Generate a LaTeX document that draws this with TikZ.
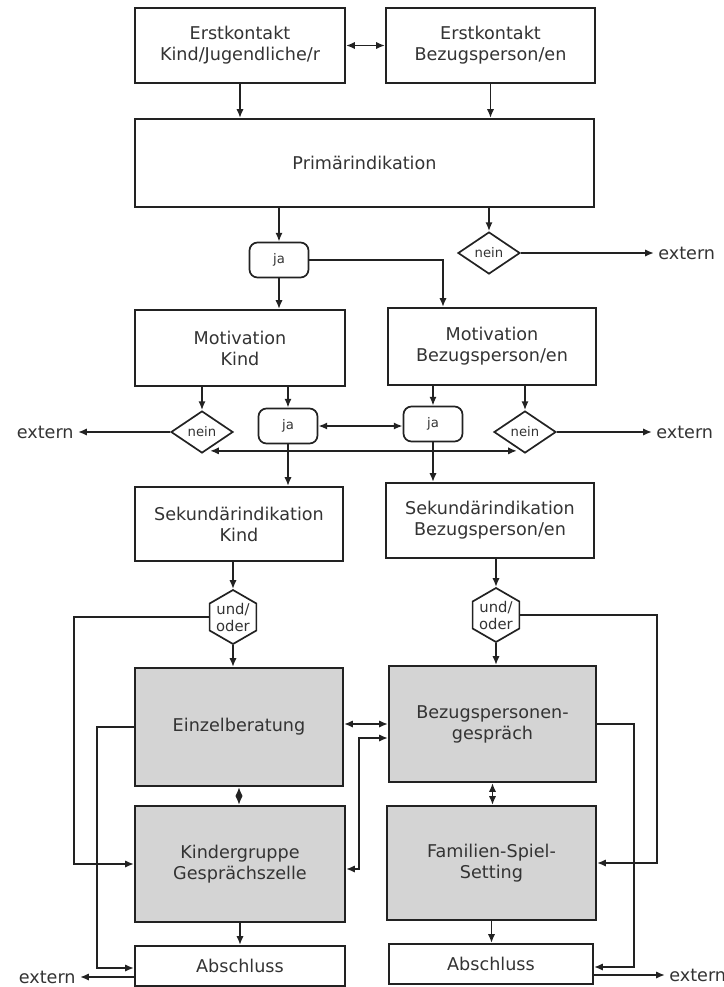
\documentclass[tikz,border=0pt]{standalone}
\usepackage{fontspec}
\setmainfont{DejaVu Sans}
\usetikzlibrary{shapes.geometric,arrows.meta,calc}
\definecolor{ln}{HTML}{222222}
\definecolor{tx}{HTML}{333333}
\definecolor{gf}{HTML}{D4D4D4}
\begin{document}
\begin{tikzpicture}[x=0.5pt,y=-0.5pt,
 every node/.style={text=tx, font=\fontsize{8.8}{10.5}\selectfont, align=center},
 box/.style={draw=ln, line width=1pt, rectangle, inner sep=0pt},
 gbox/.style={box, fill=gf},
 jabox/.style={draw=ln, line width=0.85pt, rounded corners=4pt, minimum width=29.5pt, minimum height=17.5pt, inner sep=0pt, font=\fontsize{6.6}{8}\selectfont},
 neind/.style={draw=ln, line width=0.85pt, diamond, minimum width=31pt, minimum height=21pt, inner sep=0pt, font=\fontsize{6.6}{8}\selectfont},
 hexa/.style={draw=ln, line width=0.85pt, regular polygon, regular polygon sides=6, shape border rotate=90, minimum size=27pt, inner sep=0pt},
 hext/.style={inner sep=0pt, font=\fontsize{7.4}{8.5}\selectfont},
 conn/.style={draw=ln, line width=0.9pt, -{Latex[length=4.4pt,width=3.6pt]}},
 dconn/.style={draw=ln, line width=0.9pt, {Latex[length=4.4pt,width=3.6pt]}-{Latex[length=4.4pt,width=3.6pt]}},
 ext/.style={inner sep=2pt}
]
\useasboundingbox (0,0) rectangle (724,987);

% nodes
\node[box, minimum width=105pt, minimum height=37.5pt] (ek1) at (240,45.5) {Erstkontakt\\Kind/Jugendliche/r};
\node[box, minimum width=104.5pt, minimum height=37.5pt] (ek2) at (490.5,45.5) {Erstkontakt\\Bezugsperson/en};
\node[box, minimum width=229.5pt, minimum height=44pt] (prim) at (364.5,163) {Primärindikation};
\node[jabox] (ja1) at (279,260) {ja};
\node[neind] (n1) at (489,253) {nein};
\node[ext, anchor=west] (x1) at (654,253) {extern};
\node[box, minimum width=105pt, minimum height=38pt] (mk) at (240,348) {Motivation\\Kind};
\node[box, minimum width=104pt, minimum height=38.5pt] (mb) at (492,346.5) {Motivation\\Bezugsperson/en};
\node[neind] (n2) at (202,432) {nein};
\node[jabox] (ja2) at (288,426) {ja};
\node[jabox] (ja3) at (433,424) {ja};
\node[neind] (n3) at (525,432) {nein};
\node[ext, anchor=east] (x2) at (78,432) {extern};
\node[ext, anchor=west] (x3) at (652,432) {extern};
\node[box, minimum width=104pt, minimum height=37pt] (sk) at (239,524) {Sekundärindikation\\Kind};
\node[box, minimum width=104pt, minimum height=37.5pt] (sb) at (490,520.5) {Sekundärindikation\\Bezugsperson/en};
\node[hexa] (h1) at (233,617) {};
\node[hexa] (h2) at (496,615) {};
\node[hext] (t1) at (h1) {und/\\oder};
\node[hext] (t2) at (h2) {und/\\oder};
\node[gbox, minimum width=104pt, minimum height=59pt] (ez) at (239,727) {Einzelberatung};
\node[gbox, minimum width=103.5pt, minimum height=58pt] (bz) at (492.5,724) {Bezugspersonen-\\gespräch};
\node[gbox, minimum width=105pt, minimum height=58pt] (kg) at (240,864) {Kindergruppe\\Gesprächszelle};
\node[gbox, minimum width=104.5pt, minimum height=57pt] (fs) at (491.5,863) {Familien-Spiel-\\Setting};
\node[box, minimum width=105pt, minimum height=20pt] (a1) at (240,966) {Abschluss};
\node[box, minimum width=102pt, minimum height=20pt] (a2) at (491,964) {Abschluss};
\node[ext, anchor=east] (x4) at (80,977) {extern};
\node[ext, anchor=west] (x5) at (665,975) {extern};

\coordinate (c1) at (74,617);
\coordinate (c2) at (657,615);
\coordinate (c3) at (97,727);
\coordinate (c4) at (634,724);
\coordinate (c5) at (359,869);

% connectors
\draw[dconn] (ek1) -- (ek2);
\draw[conn] (ek1.south) -- (ek1.south |- prim.north);
\draw[conn] (ek2.south) -- (ek2.south |- prim.north);
\draw[conn] (ja1 |- prim.south) -- (ja1.north);
\draw[conn] (n1 |- prim.south) -- (n1.north);
\draw[conn] (n1.east) -- (x1.west);
\draw[conn] (ja1.east) -| ([xshift=-24.5pt]mb.north);
\draw[conn] (ja1.south) -- (ja1 |- mk.north);
\draw[conn] (n2 |- mk.south) -- (n2.north);
\draw[conn] (ja2 |- mk.south) -- (ja2.north);
\draw[conn] (ja3 |- mb.south) -- (ja3.north);
\draw[conn] (n3 |- mb.south) -- (n3.north);
\draw[conn] (n2.west) -- (x2.east);
\draw[conn] (n3.east) -- (x3.west);
\draw[dconn] (ja2.east) -- (ja2.east -| ja3.west);
\draw[dconn] ($(n2.south)+(8,-3)$) -- ($(n3.south)+(-8,-3)$);
\draw[conn] (ja2.south) -- (ja2 |- sk.north);
\draw[conn] (ja3.south) -- (ja3 |- sb.north);
\draw[conn] (h1 |- sk.south) -- (h1.north);
\draw[conn] (h2 |- sb.south) -- (h2.north);
\draw[conn] (h1.south) -- (h1 |- ez.north);
\draw[conn] (h2.south) -- (h2 |- bz.north);
\draw[conn] (h1.west) -- (c1) |- (kg.west);
\draw[conn] (h2.east) -- (c2) |- (fs.east);
\draw[conn] (ez.west) -- (c3) |- ($(a1.west)+(0,2)$);
\draw[conn] (a1.west |- x4) -- (x4.east);
\draw[conn] (bz.east) -- (c4) |- ($(a2.east)+(0,3)$);
\draw[conn] (a2.east |- x5) -- (x5.west);
\draw[dconn] (bz.west -| ez.east) -- (bz.west);
\draw[dconn] ($(kg.east)+(0,5)$) -- (c5) |- ($(bz.west)+(0,14)$);
\draw[dconn] (ez.south) -- (ez.south |- kg.north);
\draw[dconn] (bz.south) -- (bz.south |- fs.north);
\draw[conn] (kg.south) -- (kg.south |- a1.north);
\draw[conn] (fs.south) -- (fs.south |- a2.north);
\end{tikzpicture}
\end{document}
